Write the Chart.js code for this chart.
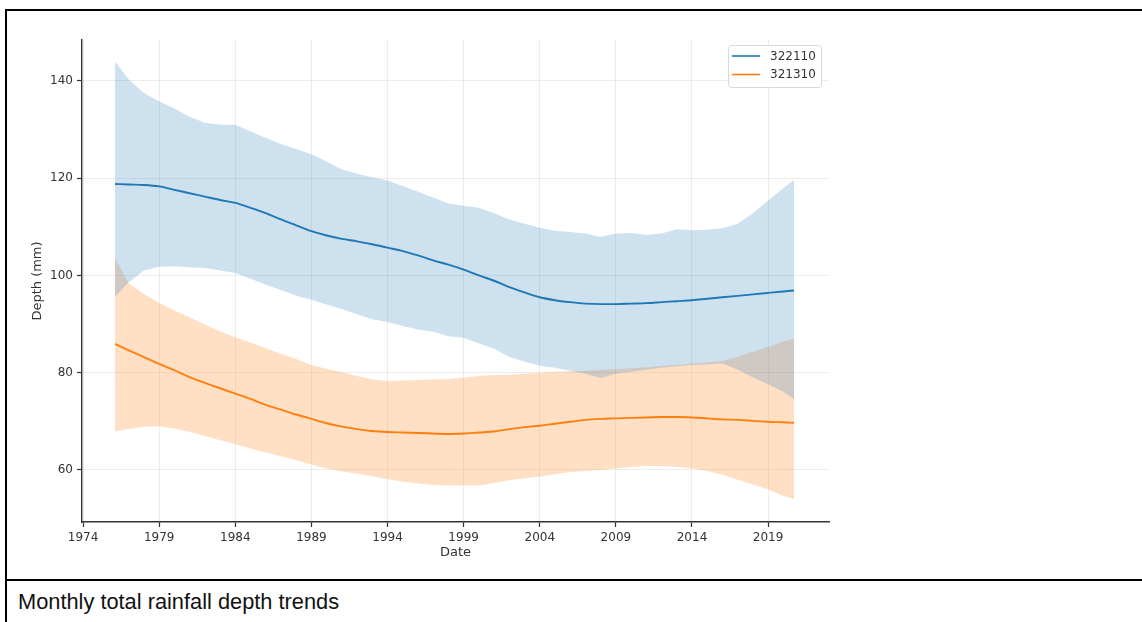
<!DOCTYPE html>
<html>
<head>
<meta charset="utf-8">
<script src="https://cdn.jsdelivr.net/npm/chart.js@4.4.0/dist/chart.umd.min.js"></script>
<style>
  html, body { margin: 0; padding: 0; background: #fff; width: 1142px; height: 622px; overflow: hidden; }
  #frame { position: absolute; left: 5px; top: 9px; width: 1200px; height: 700px;
           border-left: 2px solid #000; border-top: 2px solid #000; }
  #sep { position: absolute; left: 5px; top: 579px; width: 1142px; height: 2px; background: #000; }
  #wrap { position: absolute; left: 0; top: 0; width: 1142px; height: 578px; }
  #caption { position: absolute; left: 18px; top: 589px; white-space: nowrap;
             font: 21.8px "Liberation Sans", Arial, sans-serif; color: #111; }
</style>
</head>
<body>
<div id="frame"></div>
<div id="sep"></div>
<div id="wrap"><canvas id="chart" width="1142" height="578"></canvas></div>
<div id="caption">Monthly total rainfall depth trends</div>

<script>
// Station identifiers
const seriesNames = ['322110', '321310'];

// Axis ticks
const xTicks = [1974, 1979, 1984, 1989, 1994, 1999, 2004, 2009, 2014, 2019];
const yTicks = [60, 80, 100, 120, 140];

// Decimal years at which trends and bands are sampled
const years = [1976.1, 1977, 1978, 1979, 1980, 1981, 1982, 1983, 1984, 1985, 1986, 1987, 1988,
  1989, 1990, 1991, 1992, 1993, 1994, 1995, 1996, 1997, 1998, 1999, 2000, 2001, 2002,
  2003, 2004, 2005, 2006, 2007, 2008, 2009, 2010, 2011, 2012, 2013, 2014, 2015, 2016,
  2017, 2018, 2019, 2020, 2020.7];

// Station 322110: trend and its spread (mm)
const trend322110 = [118.8, 118.7, 118.6, 118.3, 117.6, 116.9, 116.2, 115.5, 114.9, 113.9, 112.8,
  111.5, 110.3, 109.1, 108.2, 107.5, 107.0, 106.4, 105.7, 105.0, 104.1, 103.1, 102.2, 101.2,
  100.0, 98.9, 97.6, 96.5, 95.5, 94.9, 94.5, 94.2, 94.1, 94.1, 94.2, 94.3, 94.5, 94.7, 94.9,
  95.2, 95.5, 95.8, 96.1, 96.4, 96.7, 96.9];
const upper322110 = [144.0, 140.3, 137.5, 135.8, 134.3, 132.6, 131.4, 131.0, 131.0, 129.6, 128.3,
  127.0, 126.0, 124.9, 123.4, 121.8, 120.9, 120.2, 119.5, 118.4, 117.2, 116.0, 114.8, 114.3,
  113.9, 112.8, 111.5, 110.6, 109.8, 109.2, 108.9, 108.6, 107.9, 108.6, 108.7, 108.3, 108.6,
  109.5, 109.3, 109.4, 109.7, 110.6, 112.8, 115.4, 117.9, 119.6];
const lower322110 = [95.6, 98.6, 101.0, 101.8, 101.9, 101.7, 101.5, 101.0, 100.5, 99.3, 98.1,
  97.0, 95.8, 95.0, 94.0, 93.1, 92.0, 91.0, 90.4, 89.6, 88.9, 88.4, 87.5, 87.2, 86.0, 84.9,
  83.2, 82.3, 81.4, 81.0, 80.4, 79.8, 78.9, 79.8, 80.2, 80.6, 81.0, 81.3, 81.6, 81.7, 81.9,
  80.6, 79.0, 77.6, 76.1, 74.6];

// Station 321310: trend and its spread (mm)
const trend321310 = [85.9, 84.6, 83.2, 81.8, 80.5, 79.1, 77.9, 76.8, 75.7, 74.6, 73.4, 72.4,
  71.4, 70.5, 69.6, 68.9, 68.4, 68.0, 67.8, 67.7, 67.6, 67.5, 67.4, 67.5, 67.7, 67.9, 68.4,
  68.8, 69.1, 69.5, 69.9, 70.3, 70.5, 70.6, 70.7, 70.8, 70.9, 70.9, 70.8, 70.6, 70.4, 70.3,
  70.1, 69.9, 69.8, 69.7];
const upper321310 = [103.6, 98.4, 96.2, 94.4, 92.8, 91.4, 89.9, 88.5, 87.3, 86.2, 85.0, 83.9,
  82.8, 81.6, 80.8, 80.1, 79.3, 78.6, 78.3, 78.4, 78.5, 78.6, 78.7, 79.0, 79.3, 79.5, 79.6,
  79.8, 80.0, 80.2, 80.3, 80.4, 80.6, 80.7, 80.9, 81.1, 81.4, 81.6, 81.9, 82.1, 82.4, 83.2,
  84.3, 85.3, 86.4, 87.0];
const lower321310 = [67.9, 68.4, 68.9, 69.0, 68.5, 67.8, 67.0, 66.1, 65.3, 64.4, 63.6, 62.8,
  62.0, 61.1, 60.3, 59.7, 59.2, 58.7, 58.1, 57.6, 57.2, 56.9, 56.8, 56.8, 56.8, 57.3, 57.9,
  58.3, 58.6, 59.1, 59.6, 59.8, 60.0, 60.3, 60.6, 60.8, 60.8, 60.6, 60.3, 59.8, 59.0, 58.0,
  57.0, 56.0, 54.7, 54.0];

const BLUE = '#1f77b4';
const ORANGE = '#ff7f0e';
const BLUE_FILL = 'rgba(31,119,180,0.22)';
const ORANGE_FILL = 'rgba(255,127,14,0.24)';

const pts = vals => vals.map((v, i) => ({ x: years[i], y: v }));

function trendLine(label, vals, color) {
  return { label, data: pts(vals), borderColor: color, borderWidth: 1.9,
           pointRadius: 0, fill: false, cubicInterpolationMode: 'monotone' };
}
function bandEdge(vals, fill, color) {
  return { label: '', data: pts(vals), borderColor: 'rgba(0,0,0,0)', borderWidth: 0,
           pointRadius: 0, tension: 0, fill: fill, backgroundColor: color, isBand: true };
}

// Legend box in the upper right of the plot
const legendBox = {
  id: 'legendBox',
  afterDraw(chart) {
    const ctx = chart.ctx;
    const x = 728.5, y = 45.5, w = 93, h = 42;
    ctx.save();
    ctx.fillStyle = 'rgba(255,255,255,0.85)';
    ctx.strokeStyle = '#d9d9d9';
    ctx.lineWidth = 1;
    ctx.beginPath();
    ctx.roundRect(x, y, w, h, 3);
    ctx.fill();
    ctx.stroke();
    const items = chart.data.datasets.filter(d => !d.isBand);
    ctx.font = '12px "DejaVu Sans"';
    ctx.textBaseline = 'middle';
    ctx.fillStyle = '#333';
    items.forEach((d, i) => {
      const cy = 56 + i * 18.5;
      ctx.strokeStyle = d.borderColor;
      ctx.lineWidth = 1.6;
      ctx.beginPath();
      ctx.moveTo(732, cy);
      ctx.lineTo(760, cy);
      ctx.stroke();
      ctx.fillText(d.label, 770, cy + 0.5);
    });
    ctx.restore();
  }
};

const tickFont = { family: 'DejaVu Sans', size: 12 };
const titleFont = { family: 'DejaVu Sans', size: 13 };

new Chart(document.getElementById('chart'), {
  type: 'line',
  data: {
    datasets: [
      trendLine(seriesNames[0], trend322110, BLUE),
      trendLine(seriesNames[1], trend321310, ORANGE),
      bandEdge(lower322110, false, BLUE_FILL),
      bandEdge(upper322110, '-1', BLUE_FILL),
      bandEdge(lower321310, false, ORANGE_FILL),
      bandEdge(upper321310, '-1', ORANGE_FILL)
    ]
  },
  options: {
    responsive: false,
    animation: false,
    events: [],
    layout: { padding: { left: 10, top: 40, right: 313, bottom: 10 } },
    plugins: { legend: { display: false }, tooltip: { enabled: false } },
    scales: {
      x: {
        type: 'linear',
        min: 1973.93,
        max: 2023.0,
        afterFit: s => { s.height = 46; },
        afterBuildTicks: s => { s.ticks = xTicks.map(v => ({ value: v })); },
        ticks: { font: tickFont, color: '#333', padding: 3.5, maxRotation: 0,
                 callback: v => String(v) },
        grid: { color: 'rgba(0,0,0,0.07)', lineWidth: 1, tickLength: 5,
                tickColor: '#333', tickWidth: 1.2 },
        border: { display: true, color: '#333', width: 1.4 },
        title: { display: true, text: 'Date', font: titleFont, color: '#333',
                 padding: { top: 0, bottom: 7.4 } }
      },
      y: {
        type: 'linear',
        min: 49.3,
        max: 148.4,
        afterFit: s => { s.width = 72; },
        afterBuildTicks: s => { s.ticks = yTicks.map(v => ({ value: v })); },
        ticks: { font: tickFont, color: '#333', padding: 4 },
        grid: { color: 'rgba(0,0,0,0.07)', lineWidth: 1, tickLength: 5,
                tickColor: '#333', tickWidth: 1.2 },
        border: { display: true, color: '#333', width: 1.4 },
        title: { display: true, text: 'Depth (mm)', font: titleFont, color: '#333',
                 padding: { top: 20.2, bottom: 0 } }
      }
    }
  },
  plugins: [legendBox]
});
</script>
</body>
</html>
